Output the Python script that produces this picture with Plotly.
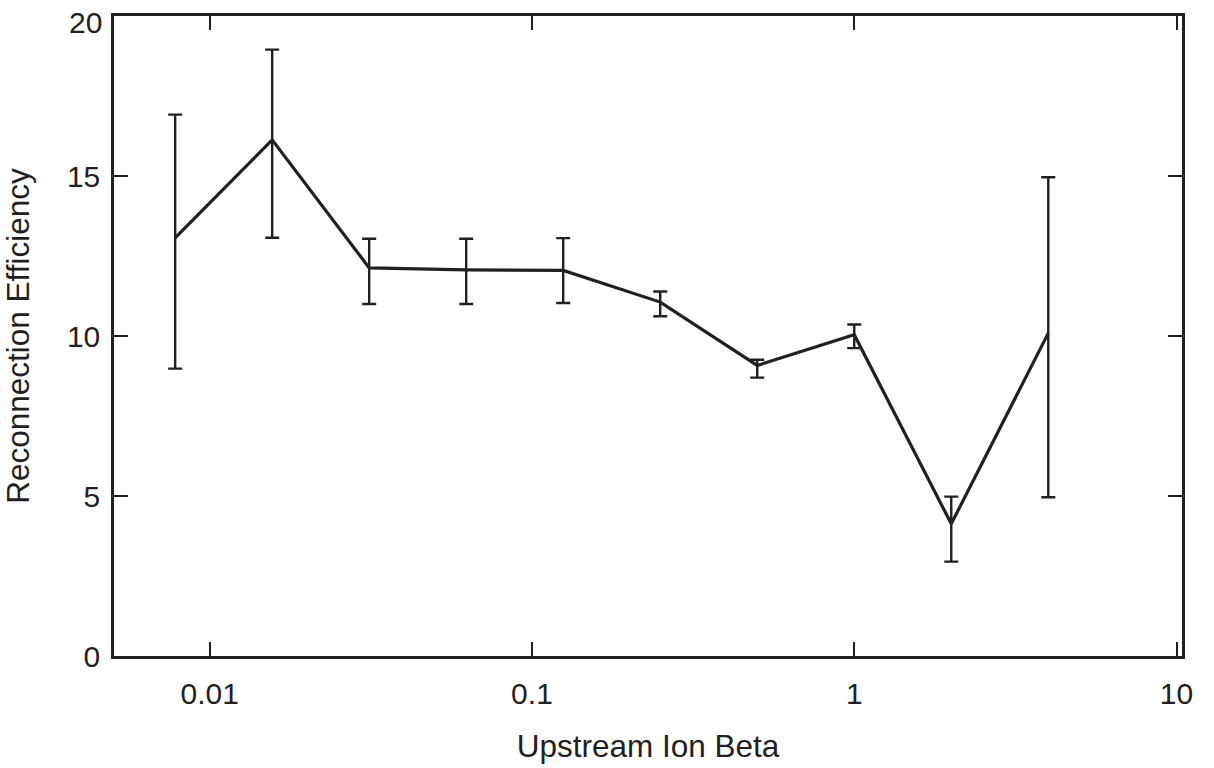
import numpy as np
import plotly.graph_objects as go

# Data
beta = [0.0078125, 0.015625, 0.03125, 0.0625, 0.125, 0.25, 0.5, 1.0, 2.0, 4.0]
efficiency = [13.07, 16.13, 12.13, 12.07, 12.05, 11.06, 9.08, 10.04, 4.13, 10.09]
err_upper = [16.92, 18.95, 13.04, 13.04, 13.06, 11.39, 9.26, 10.36, 4.98, 14.96]
err_lower = [8.98, 13.07, 11.0, 11.0, 11.03, 10.62, 8.70, 9.62, 2.95, 4.96]

x_ticks = [0.01, 0.1, 1, 10]
x_ticktext = ["0.01", "0.1", "1", "10"]
y_ticks = [0, 5, 10, 15, 20]
y_ticktext = ["0", "5", "10", "15", ""]   # top label "20" drawn below as text
y_top_label = "20"

plus = [u - v for u, v in zip(err_upper, efficiency)]
minus = [v - l for v, l in zip(efficiency, err_lower)]

ink = "#231f20"
font_family = "Liberation Sans, Arial, Helvetica, sans-serif"

fig = go.Figure()
fig.add_trace(go.Scatter(
    x=beta, y=efficiency, mode="lines",
    line=dict(color=ink, width=3.2),
    error_y=dict(type="data", symmetric=False, array=plus, arrayminus=minus,
                 color=ink, thickness=2.4, width=7),
    showlegend=False,
))

fig.add_annotation(
    x=0, xref="paper", y=y_ticks[-1], yref="y",
    text=y_top_label, showarrow=False, borderpad=0,
    xanchor="right", yanchor="middle", xshift=-11, yshift=-6,
    font=dict(family=font_family, size=30, color=ink),
)

fig.update_layout(
    width=1214, height=768,
    margin=dict(l=114, r=32, t=16, b=112, autoexpand=False),
    paper_bgcolor="white", plot_bgcolor="white",
    font=dict(family=font_family, color=ink, size=30),
    xaxis=dict(
        type="log", range=[-2.297, 1.017],
        tickvals=x_ticks, ticktext=x_ticktext,
        ticks="inside", ticklen=14, tickwidth=2, tickcolor=ink,
        showline=True, linecolor=ink, linewidth=2.5, mirror="ticks",
        showgrid=False, zeroline=False, automargin=False,
        tickfont=dict(size=30), ticklabeloverflow="allow",
        ticklabelstandoff=9,
        title=dict(text="Upstream Ion Beta", font=dict(size=31.5), standoff=27),
    ),
    yaxis=dict(
        range=[-0.0001, 20.001], tickvals=y_ticks, ticktext=y_ticktext,
        ticks="inside", ticklen=14, tickwidth=2, tickcolor=ink,
        showline=True, linecolor=ink, linewidth=2.5, mirror="ticks",
        showgrid=False, zeroline=False, automargin=False,
        tickfont=dict(size=30), ticklabeloverflow="allow",
        ticklabelstandoff=5,
        title=dict(text="Reconnection Efficiency", font=dict(size=31.5), standoff=31),
    ),
)

fig.write_html(
    "out.html",
    config={"displayModeBar": False},
    post_script="document.body.style.margin='0';document.body.style.overflow='hidden';",
)
